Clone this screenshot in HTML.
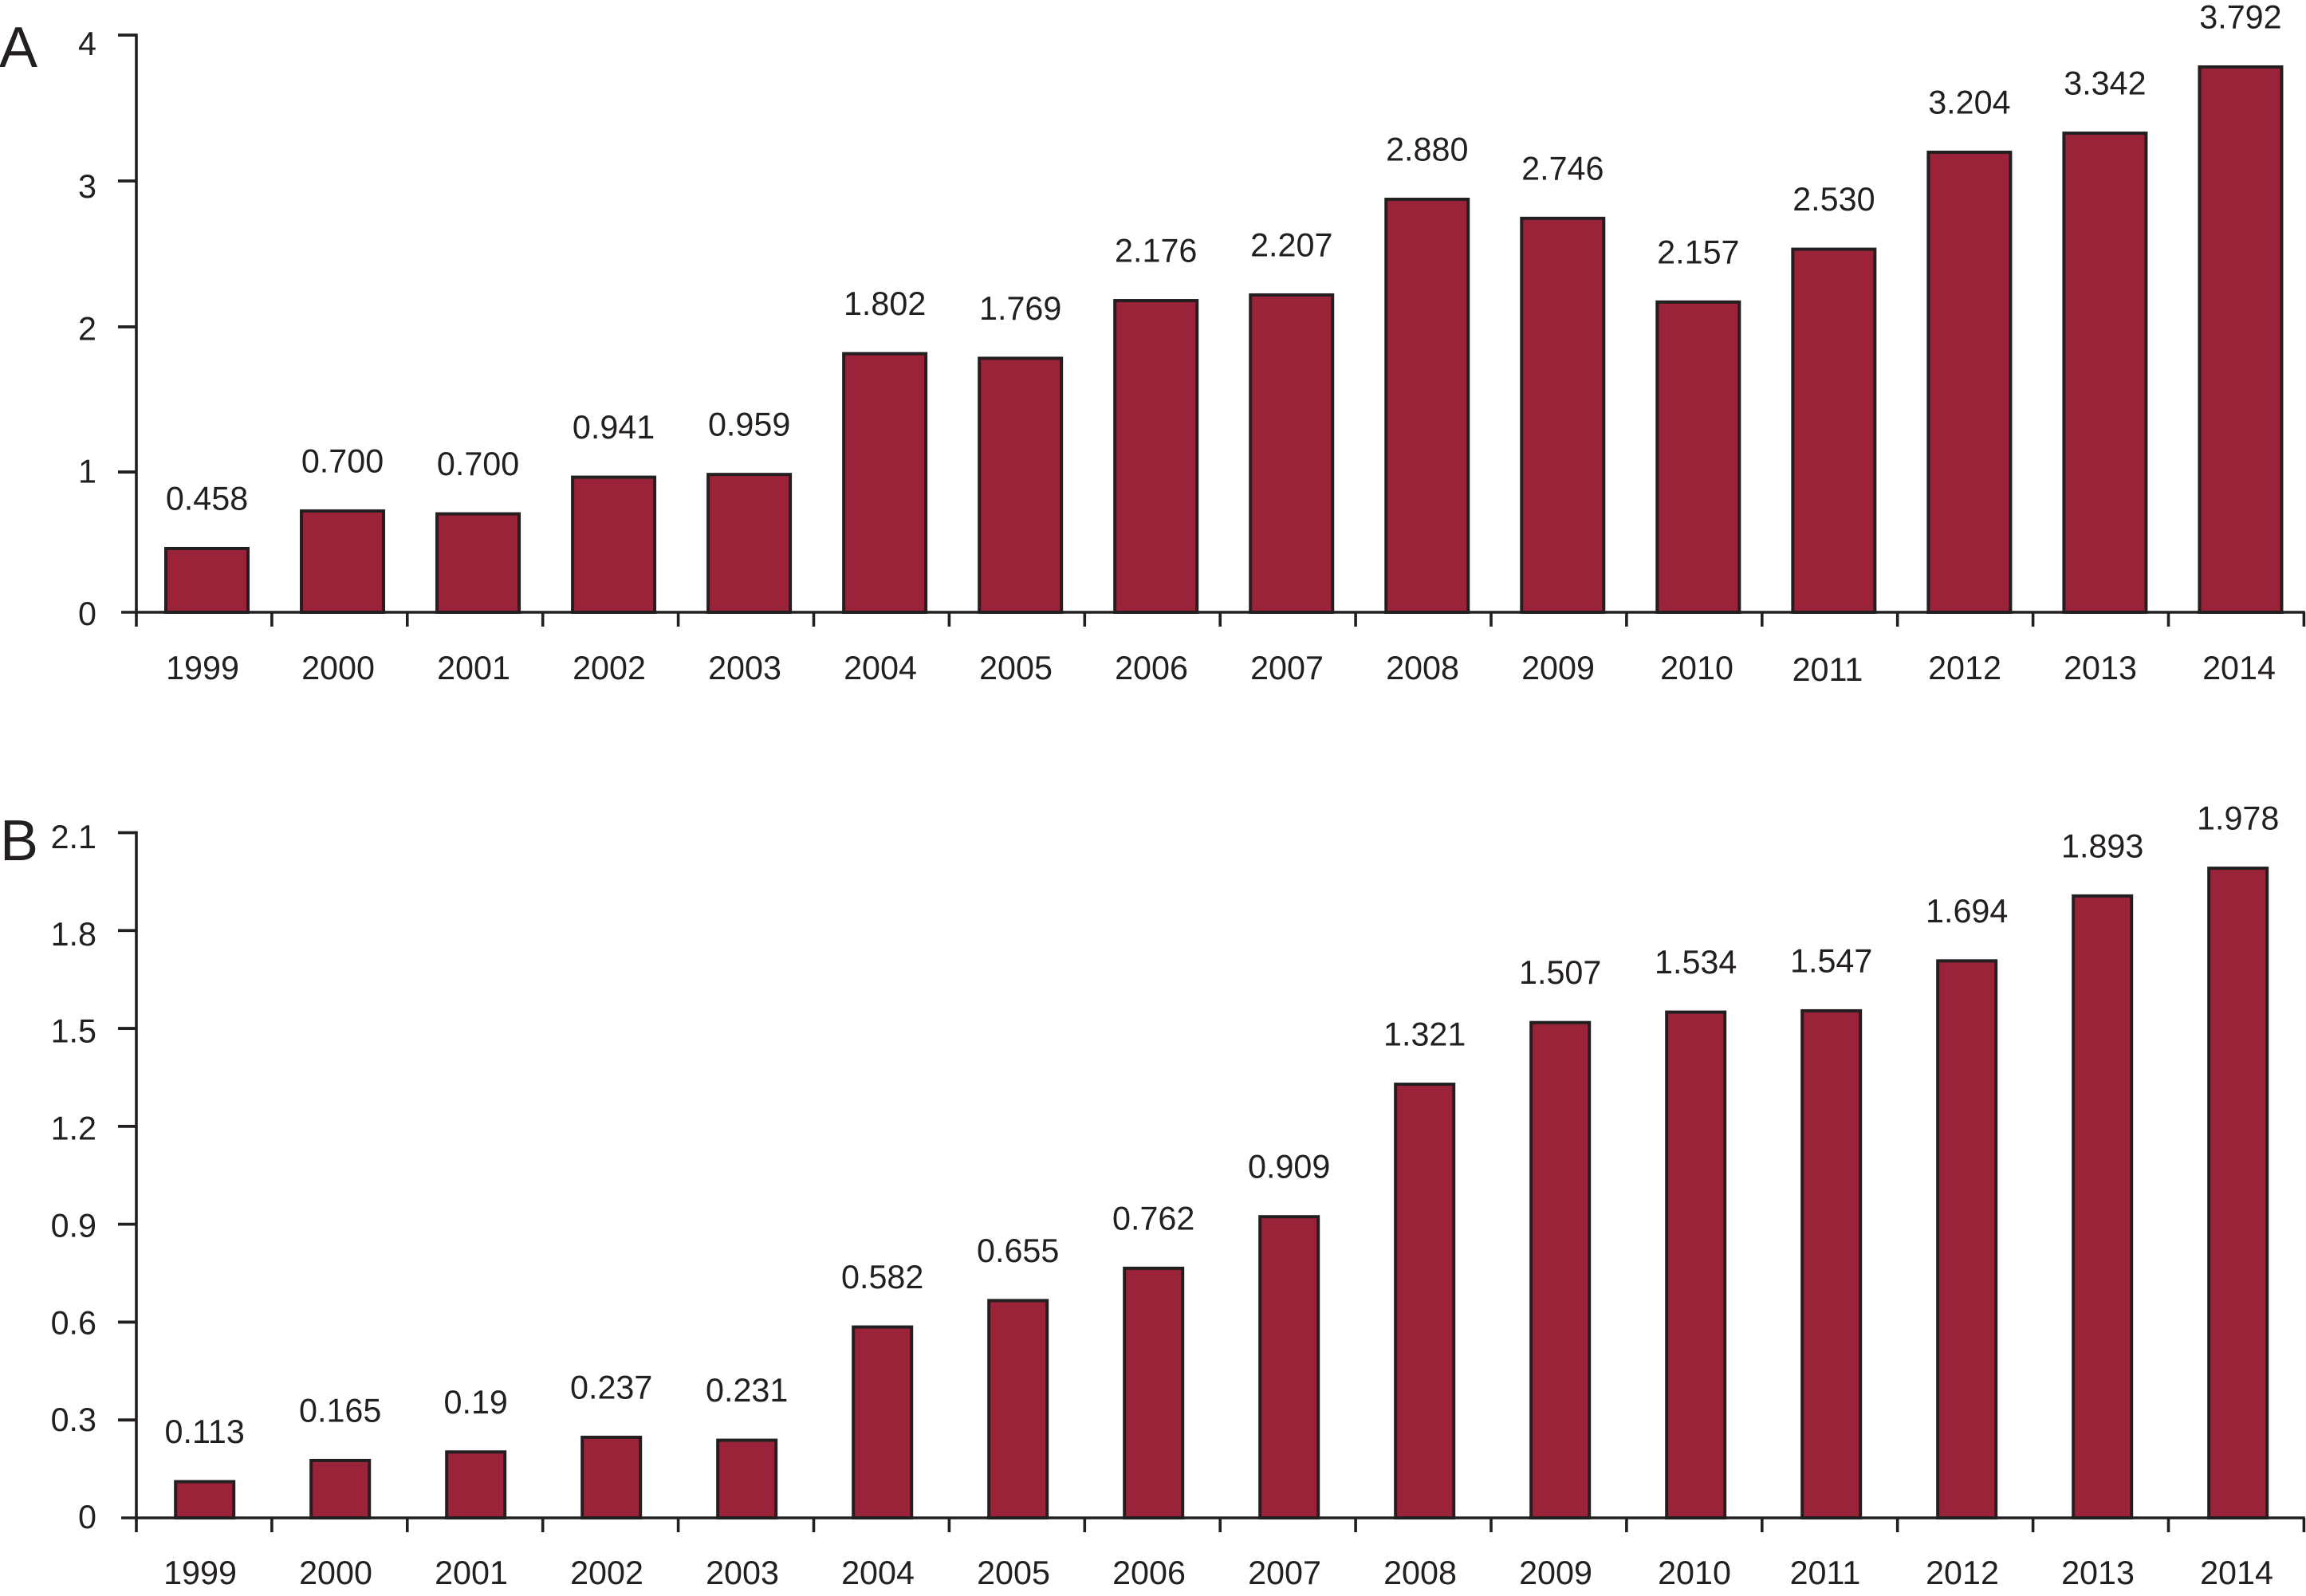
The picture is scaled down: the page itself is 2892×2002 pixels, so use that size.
<!DOCTYPE html>
<html lang="en">
<head>
<meta charset="utf-8">
<title>Annual values by year, panels A and B</title>
<style>
  html, body { margin: 0; padding: 0; background: #ffffff; }
  svg { display: block; }
  text { font-family: "Liberation Sans", sans-serif; fill: #231f20; }
</style>
</head>
<body>
<svg id="chart" xmlns="http://www.w3.org/2000/svg" width="2892" height="2002" viewBox="0 0 2892 2002">
  <rect x="0" y="0" width="2892" height="2002" fill="#ffffff"></rect>
  <text x="-1" y="84" font-size="72">A</text>
  <text x="0" y="1079" font-size="72">B</text>
  <g id="panel-a"></g>
  <g id="panel-b"></g>
</svg>
<script>
const categories = ['1999','2000','2001','2002','2003','2004','2005','2006','2007','2008','2009','2010','2011','2012','2013','2014'];

const barValuesA = [0.442,0.702,0.682,0.936,0.955,1.792,1.760,2.160,2.199,2.862,2.730,2.150,2.516,3.188,3.320,3.779];
const printedLabelsA = ['0.458','0.700','0.700','0.941','0.959','1.802','1.769','2.176','2.207','2.880','2.746','2.157','2.530','3.204','3.342','3.792'];
const tickMarksA = [0,0.972,1.978,2.989,4];
const tickLabelsA = ['0','1','2','3','4'];

const barValuesB = [0.111,0.176,0.202,0.247,0.238,0.585,0.666,0.765,0.923,1.329,1.518,1.550,1.554,1.707,1.906,1.991];
const printedLabelsB = ['0.113','0.165','0.19','0.237','0.231','0.582','0.655','0.762','0.909','1.321','1.507','1.534','1.547','1.694','1.893','1.978'];
const tickMarksB = [0,0.3,0.6,0.9,1.2,1.5,1.8,2.1];
const tickLabelsB = ['0','0.3','0.6','0.9','1.2','1.5','1.8','2.1'];

const SVG_NS = 'http://www.w3.org/2000/svg';
const INK = '#231f20';
const BAR_FILL = '#9b2339';
const AXIS_X = 171;
const AXIS_END_X = 2889;

function addTo(parent, tag) {
  const el = document.createElementNS(SVG_NS, tag);
  parent.appendChild(el);
  return el;
}

function drawLine(parent, name, x1, y1, x2, y2, width) {
  const el = addTo(parent, 'line');
  
  
  el.setAttribute('x1', x1);
  el.setAttribute('y1', y1);
  el.setAttribute('x2', x2);
  el.setAttribute('y2', y2);
  el.setAttribute('stroke', INK);
  el.setAttribute('stroke-width', width);
}

function drawText(parent, name, x, y, anchor, content) {
  const el = addTo(parent, 'text');
  
  
  el.setAttribute('x', x);
  el.setAttribute('y', y);
  el.setAttribute('text-anchor', anchor);
  el.setAttribute('font-size', '41.3');
  el.textContent = content;
}

function drawPanel(p) {
  const g = document.getElementById(p.id);
  const yScale = v => p.zeroY - v * p.unit;
  const barCenter = i => p.firstBar + i * p.barStep;
  const yearCenter = year => p.firstYear + categories.indexOf(year) * 170 + (p.yearShift[year] || 0);
  const catTick = i => AXIS_X + i * 169.9;
  const top = yScale(p.ticks[p.ticks.length - 1]);

  drawLine(g, p.key + '-y-axis', AXIS_X, top - 1.8, AXIS_X, p.zeroY + 18, 3.6);
  p.ticks.forEach((t, i) => {
    const y = yScale(t);
    if (i > 0) {
      drawLine(g, p.key + '-y-tick-' + p.tickLabels[i], 148, y, AXIS_X, y, 3.8);
    }
    drawText(g, p.key + '-y-tick-label-' + p.tickLabels[i], 121, p.labelZeroY - i * p.labelStep, 'end', p.tickLabels[i]);
  });
  drawLine(g, p.key + '-x-axis', 152, p.zeroY, AXIS_END_X + 1.8, p.zeroY, 3.6);
  for (let i = 1; i <= categories.length; i++) {
    drawLine(g, p.key + '-x-tick-' + i, catTick(i), p.zeroY, catTick(i), p.zeroY + 18, 3.6);
  }

  categories.forEach((year, i) => {
    const y = yScale(p.values[i]);
    const bar = addTo(g, 'rect');
    
    
    bar.setAttribute('x', barCenter(i) - p.barWidth / 2);
    bar.setAttribute('y', y);
    bar.setAttribute('width', p.barWidth);
    bar.setAttribute('height', p.zeroY - y);
    bar.setAttribute('fill', BAR_FILL);
    bar.setAttribute('stroke', INK);
    bar.setAttribute('stroke-width', '4');
    drawText(g, p.key + '-value-label-' + year, barCenter(i), y - 48.5, 'middle', p.printed[i]);
    const yearY = p.yearBaseline + (year === '2011' ? p.year2011Drop : 0);
    drawText(g, p.key + '-x-tick-label-' + year, yearCenter(year), yearY, 'middle', year);
  });
}

drawPanel({
  id: 'panel-a', key: 'a', values: barValuesA, printed: printedLabelsA,
  ticks: tickMarksA, tickLabels: tickLabelsA,
  zeroY: 768, unit: 181, labelZeroY: 784, labelStep: 178.75,
  firstBar: 259.5, barStep: 170.03, barWidth: 103,
  firstYear: 254, yearBaseline: 852, year2011Drop: 2,
  yearShift: { '2010': 4, '2011': -2, '2014': 4 }
});
drawPanel({
  id: 'panel-b', key: 'b', values: barValuesB, printed: printedLabelsB,
  ticks: tickMarksB, tickLabels: tickLabelsB,
  zeroY: 1904, unit: 409.3, labelZeroY: 1917, labelStep: 121.86,
  firstBar: 256.7, barStep: 170, barWidth: 73,
  firstYear: 251, yearBaseline: 1987, year2011Drop: 0,
  yearShift: { '2010': 4, '2011': -2, '2014': 4 }
});
</script>
</body>
</html>
